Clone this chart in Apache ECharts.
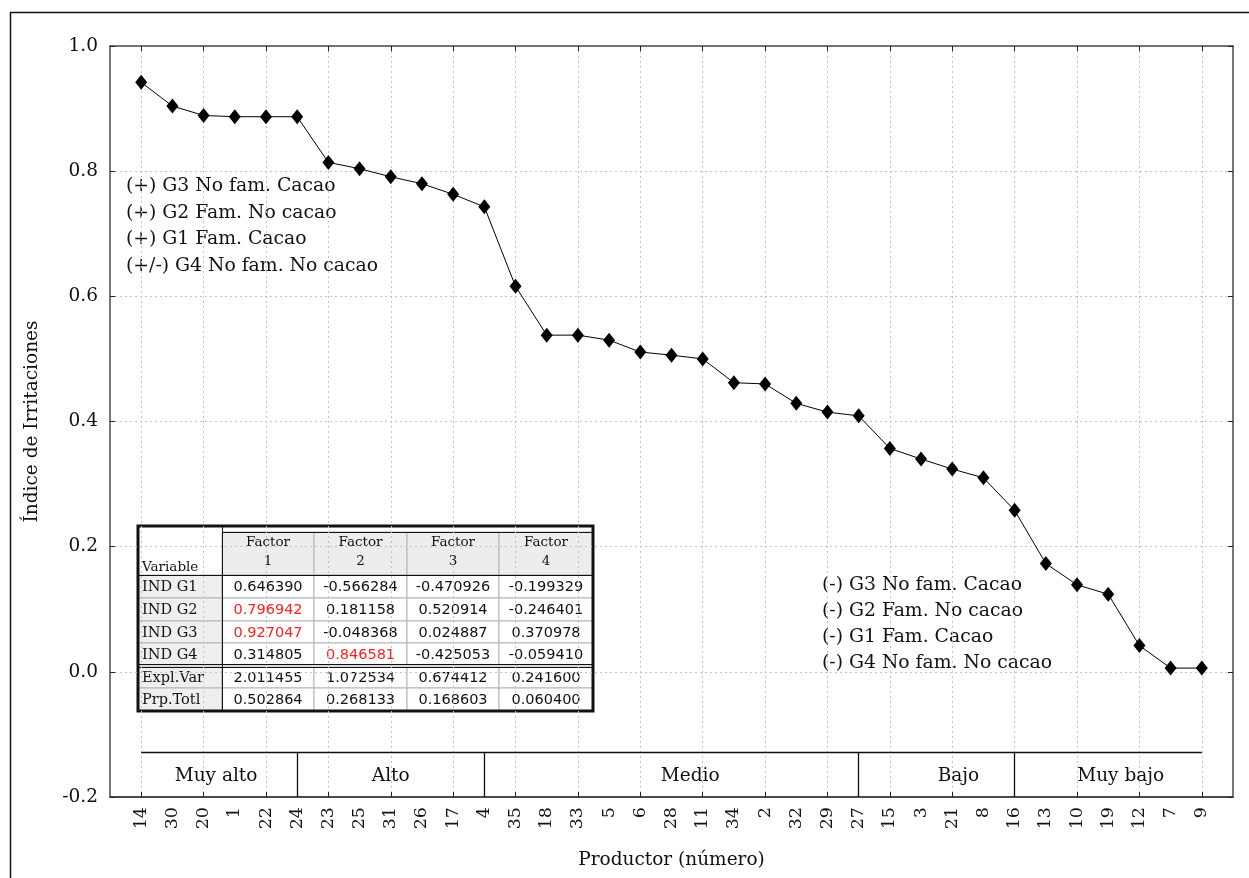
<!DOCTYPE html>
<html>
<head>
<meta charset="utf-8">
<script src="https://cdn.jsdelivr.net/npm/echarts@6/dist/echarts.min.js"></script>
<style>
html, body { margin: 0; padding: 0; background: #fff; }
#chart { width: 1249px; height: 878px; }
</style>
</head>
<body>
<div id="chart"></div>
<script>
// Productores ordenados por índice de irritaciones (de mayor a menor)
const productores = ['14','30','20','1','22','24','23','25','31','26','17','4','35','18','33','5','6','28','11','34','2','32','29','27','15','3','21','8','16','13','10','19','12','7','9'];
const indice = [0.942,0.904,0.889,0.887,0.887,0.887,0.814,0.804,0.791,0.780,0.763,0.743,0.616,0.538,0.538,0.530,0.511,0.506,0.500,0.462,0.460,0.429,0.415,0.409,0.357,0.340,0.324,0.310,0.258,0.173,0.139,0.124,0.042,0.006,0.006];

// Eje Y
const yMin = -0.2, yMax = 1.0, yStep = 0.2;

// Grupos de productores: nombre y último productor de cada grupo
const grupos = ['Muy alto', 'Alto', 'Medio', 'Bajo', 'Muy bajo'];
const ultimoDeGrupo = ['24', '4', '27', '16'];

// Textos explicativos
const notasPositivas = ['(+) G3 No fam. Cacao', '(+) G2 Fam. No cacao', '(+) G1 Fam. Cacao', '(+/-) G4 No fam. No cacao'];
const notasNegativas = ['(-) G3 No fam. Cacao', '(-) G2 Fam. No cacao', '(-) G1 Fam. Cacao', '(-) G4 No fam. No cacao'];

// Tabla de cargas factoriales
const tablaCabecera = ['Factor\n1', 'Factor\n2', 'Factor\n3', 'Factor\n4'];
const tablaFilas = ['IND G1', 'IND G2', 'IND G3', 'IND G4', 'Expl.Var', 'Prp.Totl'];
const tablaValores = [
  ['0.646390', '-0.566284', '-0.470926', '-0.199329'],
  ['0.796942', '0.181158', '0.520914', '-0.246401'],
  ['0.927047', '-0.048368', '0.024887', '0.370978'],
  ['0.314805', '0.846581', '-0.425053', '-0.059410'],
  ['2.011455', '1.072534', '0.674412', '0.241600'],
  ['0.502864', '0.268133', '0.168603', '0.060400']
];
// Celdas resaltadas [fila, columna]
const destacadas = [[1, 0], [2, 0], [3, 1]];

const SERIF = '"DejaVu Serif", "Liberation Serif", serif';
const SANS = '"DejaVu Sans", Verdana, sans-serif';
const INK = '#111';

// Categorías con un hueco a cada lado
const categorias = [''].concat(productores, [' ']);
const serieDatos = [null].concat(indice, [null]);

// Franja de grupos bajo la curva
const franjaY = -0.128;
const etiquetaY = -0.166;
const posEtiquetas = [3.4, 9.0, 18.6, 27.2, 32.4];
const sepLines = ultimoDeGrupo.map(p => {
  const i = productores.indexOf(p) + 1;
  return { coords: [[i, franjaY], [i, yMin]] };
});
sepLines.push({ coords: [[1, franjaY], [productores.length, franjaY]] });

// Tabla como elementos gráficos
function buildTable() {
  const cols = [138, 222, 314, 407, 499, 593];
  const rowTops = [575, 598, 621, 643, 667, 688];
  const rowBots = [598, 621, 643, 665, 688, 711];
  const els = [];
  const isRed = (r, c) => destacadas.some(d => d[0] === r && d[1] === c);
  els.push({ type: 'rect', shape: { x: 138, y: 526, width: 455, height: 185 }, style: { fill: '#fff' } });
  tablaCabecera.forEach((t, j) => {
    els.push({ type: 'rect', shape: { x: cols[j + 1], y: 532, width: cols[j + 2] - cols[j + 1], height: 43 },
      style: { fill: '#ededed', stroke: '#b4b4b4', lineWidth: 1 } });
    els.push({ type: 'text', x: (cols[j + 1] + cols[j + 2]) / 2, y: 552,
      style: { text: t, font: '13.5px ' + SERIF, fill: INK, align: 'center', verticalAlign: 'middle',
        textAlign: 'center', textVerticalAlign: 'middle', lineHeight: 19 } });
  });
  els.push({ type: 'text', x: 142, y: 567,
    style: { text: 'Variable', font: '13.5px ' + SERIF, fill: INK, align: 'left', verticalAlign: 'middle',
      textAlign: 'left', textVerticalAlign: 'middle' } });
  tablaFilas.forEach((f, r) => {
    const y0 = rowTops[r], y1 = rowBots[r];
    els.push({ type: 'rect', shape: { x: cols[0], y: y0, width: cols[1] - cols[0], height: y1 - y0 },
      style: { fill: '#efefef', stroke: '#b4b4b4', lineWidth: 1 } });
    els.push({ type: 'text', x: 142, y: (y0 + y1) / 2 + 1,
      style: { text: f, font: '14.5px ' + SERIF, fill: INK, align: 'left', verticalAlign: 'middle',
        textAlign: 'left', textVerticalAlign: 'middle' } });
    tablaValores[r].forEach((v, c) => {
      els.push({ type: 'rect', shape: { x: cols[c + 1], y: y0, width: cols[c + 2] - cols[c + 1], height: y1 - y0 },
        style: { fill: '#fff', stroke: '#b4b4b4', lineWidth: 1 } });
      els.push({ type: 'text', x: (cols[c + 1] + cols[c + 2]) / 2, y: (y0 + y1) / 2 + 1,
        style: { text: v, font: '14.5px ' + SANS, fill: isRed(r, c) ? '#ff2020' : INK,
          align: 'center', verticalAlign: 'middle', textAlign: 'center', textVerticalAlign: 'middle' } });
    });
  });
  const black = (x1, y1, x2, y2, w) => els.push({ type: 'line', shape: { x1, y1, x2, y2 }, style: { stroke: '#111', lineWidth: w || 1 } });
  black(222.5, 526, 222.5, 711);
  black(138, 575.5, 593, 575.5);
  black(222, 532.5, 593, 532.5);
  black(138, 664.5, 593, 664.5);
  black(138, 667.5, 593, 667.5);
  els.push({ type: 'rect', shape: { x: 138, y: 526, width: 455, height: 185 }, style: { fill: 'none', stroke: '#111', lineWidth: 3 } });
  return { type: 'group', z: 100, children: els };
}

function buildNotes() {
  const els = [];
  notasPositivas.forEach((t, i) => {
    els.push({ type: 'text', x: 126, y: 186 + i * 26.8,
      style: { text: t, font: '18.8px ' + SERIF, fill: INK, align: 'left', verticalAlign: 'middle',
        textAlign: 'left', textVerticalAlign: 'middle' } });
  });
  notasNegativas.forEach((t, i) => {
    els.push({ type: 'text', x: 822, y: 585 + i * 26.2,
      style: { text: t, font: '18.8px ' + SERIF, fill: INK, align: 'left', verticalAlign: 'middle',
        textAlign: 'left', textVerticalAlign: 'middle' } });
  });
  return { type: 'group', z: 90, children: els };
}

const tickEven = (idx) => idx % 2 === 1;
const frame = { show: true, onZero: false, lineStyle: { color: '#4a4a4a', width: 1.5 } };
const dotted = { show: true, lineStyle: { color: '#c4c4c4', type: [2, 3], width: 1 } };

const chart = echarts.init(document.getElementById('chart'));
chart.setOption({
  animation: false,
  backgroundColor: '#fff',
  grid: { left: 110, right: 16, top: 46, bottom: 81, containLabel: false, outerBoundsMode: 'none' },
  xAxis: [
    {
      type: 'category', data: categorias, boundaryGap: false, position: 'bottom',
      axisLine: { show: true, onZero: false, lineStyle: { color: '#4a4a4a', width: 2 } },
      axisTick: { show: true, inside: true, length: 5, interval: tickEven, lineStyle: { color: '#222' } },
      axisLabel: { interval: 0, rotate: 90, margin: 10, fontFamily: SERIF, fontSize: 17.5, color: INK },
      splitLine: Object.assign({ interval: tickEven }, dotted),
      name: 'Productor (número)', nameLocation: 'middle', nameGap: 54,
      nameTextStyle: { fontFamily: SERIF, fontSize: 18.5, color: INK }
    },
    {
      type: 'category', data: categorias, boundaryGap: false, position: 'top',
      axisLine: frame,
      axisTick: { show: true, inside: true, length: 5, interval: tickEven, lineStyle: { color: '#222' } },
      axisLabel: { show: false }, splitLine: { show: false }
    },
    {
      type: 'value', min: 0, max: categorias.length - 1, show: false, position: 'bottom',
      splitLine: { show: false }
    }
  ],
  yAxis: [
    {
      type: 'value', min: yMin, max: yMax, interval: yStep, position: 'left',
      axisLine: frame,
      axisTick: { show: true, inside: true, length: 5, lineStyle: { color: '#222' } },
      axisLabel: { formatter: v => v.toFixed(1), margin: 12, fontFamily: SERIF, fontSize: 18.5, color: INK },
      splitLine: dotted,
      name: 'Índice de Irritaciones', nameLocation: 'middle', nameGap: 68,
      nameTextStyle: { fontFamily: SERIF, fontSize: 18.5, color: INK }
    },
    {
      type: 'value', min: yMin, max: yMax, interval: yStep, position: 'right',
      axisLine: frame,
      axisTick: { show: true, inside: true, length: 5, lineStyle: { color: '#222' } },
      axisLabel: { show: false }, splitLine: { show: false }
    }
  ],
  series: [
    {
      type: 'line', xAxisIndex: 0, yAxisIndex: 0, data: serieDatos,
      symbol: 'diamond', symbolSize: [12, 15], showSymbol: true,
      itemStyle: { color: '#000' }, lineStyle: { color: '#000', width: 1 }, z: 5
    },
    {
      type: 'lines', coordinateSystem: 'cartesian2d', xAxisIndex: 2, yAxisIndex: 0,
      data: sepLines, lineStyle: { color: '#111', width: 1.3, opacity: 1 }, z: 4
    },
    {
      type: 'scatter', xAxisIndex: 2, yAxisIndex: 0, symbolSize: 0,
      itemStyle: { opacity: 1 },
      data: grupos.map((g, i) => ({ name: g, value: [posEtiquetas[i], etiquetaY] })),
      label: { show: true, position: 'inside', formatter: p => p.name, fontFamily: SERIF, fontSize: 18.5,
        color: INK, opacity: 1, textBorderWidth: 0 },
      z: 4
    }
  ],
  graphic: [
    { type: 'rect', z: -1, shape: { x: 10.5, y: 12.5, width: 1400, height: 1000 }, style: { fill: 'none', stroke: '#111', lineWidth: 1.5 } },
    buildNotes(),
    buildTable()
  ]
});
</script>
</body>
</html>
